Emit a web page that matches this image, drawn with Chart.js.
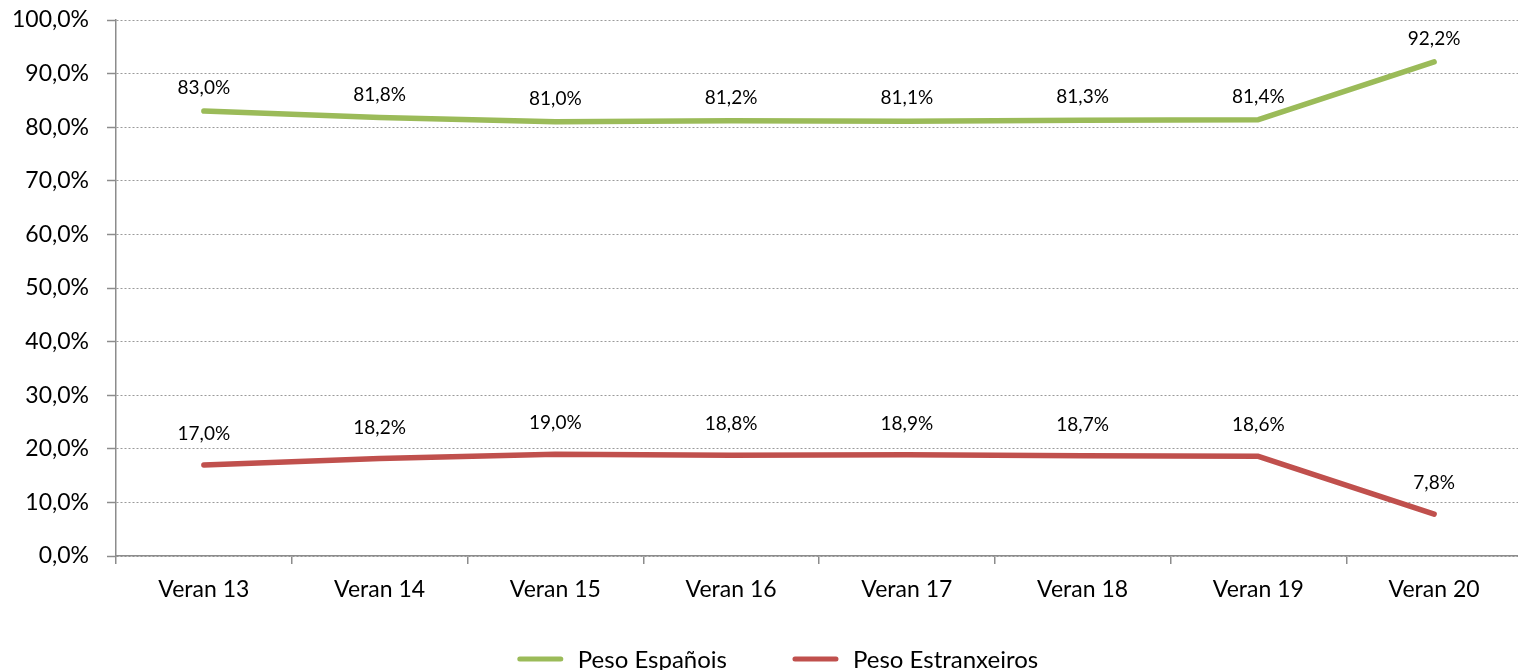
<!DOCTYPE html>
<html>
<head>
<meta charset="utf-8">
<script src="https://cdn.jsdelivr.net/npm/chart.js@4/dist/chart.umd.min.js"></script>
<style>
  html, body { margin: 0; padding: 0; background: #fff; overflow: hidden; }
  #wrap { position: relative; width: 1522px; height: 670px; }
</style>
</head>
<body>
<div id="wrap"><canvas id="c"></canvas></div>
<script>
const categories = ["Veran 13", "Veran 14", "Veran 15", "Veran 16", "Veran 17", "Veran 18", "Veran 19", "Veran 20"];
const pesoEspanois = [83.0, 81.8, 81.0, 81.2, 81.1, 81.3, 81.4, 92.2];
const pesoEstranxeiros = [17.0, 18.2, 19.0, 18.8, 18.9, 18.7, 18.6, 7.8];
const seriesNames = ["Peso Españois", "Peso Estranxeiros"];

const fmt = v => v.toFixed(1).replace('.', ',') + '%';
const FONT = "Lato";

const valueLabels = {
  id: 'valueLabels',
  afterDatasetsDraw(chart) {
    const ctx = chart.ctx;
    ctx.save();
    ctx.font = `19px ${FONT}`;
    ctx.fillStyle = '#000';
    ctx.textAlign = 'center';
    ctx.textBaseline = 'middle';
    chart.data.datasets.forEach((ds, i) => {
      const meta = chart.getDatasetMeta(i);
      meta.data.forEach((pt, j) => {
        ctx.fillText(fmt(ds.data[j]), pt.x, pt.y - ds.labelOffset);
      });
    });
    ctx.restore();
  }
};

const bottomLegend = {
  id: 'bottomLegend',
  afterDraw(chart) {
    const ctx = chart.ctx;
    const lineLen = 45, gapText = 15, gapItems = 66, cx = 778, cy = 659;
    ctx.save();
    ctx.font = `24px ${FONT}`;
    ctx.textBaseline = 'middle';
    ctx.textAlign = 'left';
    const items = chart.data.datasets.map(ds => ({ text: ds.label, color: ds.borderColor, w: ctx.measureText(ds.label).width }));
    const total = items.reduce((s, it) => s + lineLen + gapText + it.w, 0) + gapItems * (items.length - 1);
    let x = cx - total / 2;
    items.forEach(it => {
      ctx.strokeStyle = it.color;
      ctx.lineWidth = 5;
      ctx.lineCap = 'round';
      ctx.beginPath();
      ctx.moveTo(x + 2, cy);
      ctx.lineTo(x + lineLen - 2, cy);
      ctx.stroke();
      ctx.fillStyle = '#000';
      ctx.fillText(it.text, x + lineLen + gapText, cy + 1);
      x += lineLen + gapText + it.w + gapItems;
    });
    ctx.restore();
  }
};

new Chart(document.getElementById('c'), {
  type: 'line',
  data: {
    labels: categories,
    datasets: [
      { label: seriesNames[0], data: pesoEspanois, borderColor: '#9BBB59', backgroundColor: '#9BBB59',
        borderWidth: 5.5, borderCapStyle: 'round', borderJoinStyle: 'round', pointRadius: 0, tension: 0, labelOffset: 23 },
      { label: seriesNames[1], data: pesoEstranxeiros, borderColor: '#C0504D', backgroundColor: '#C0504D',
        borderWidth: 5.5, borderCapStyle: 'round', borderJoinStyle: 'round', pointRadius: 0, tension: 0, labelOffset: 31 }
    ]
  },
  options: {
    responsive: true,
    maintainAspectRatio: false,
    animation: false,
    layout: { padding: { left: 0, right: 0, top: 20, bottom: 0 } },
    plugins: {
      tooltip: { enabled: false },
      legend: { display: false }
    },
    scales: {
      x: {
        offset: true,
        afterFit(scale) { scale.height = 114; scale.paddingTop = 0; scale.paddingBottom = 0; },
        grid: { display: true, offset: true, drawOnChartArea: false, drawTicks: true, tickLength: 8,
                color: '#8c8c8c', lineWidth: 1.5 },
        border: { display: true, color: '#8c8c8c', width: 1.5 },
        ticks: { font: { family: FONT, size: 23 }, color: '#000', padding: 12, maxRotation: 0, autoSkip: false }
      },
      y: {
        min: 0, max: 100,
        afterFit(scale) { scale.width = 116; scale.paddingTop = 0; scale.paddingBottom = 0; },
        grid: { color: '#9a9a9a', lineWidth: 1, tickLength: 9, tickColor: '#8c8c8c', tickWidth: 1.5, tickBorderDash: [] },
        border: { display: true, color: '#8c8c8c', width: 1.5, dash: [2, 2] },
        ticks: { stepSize: 10, font: { family: FONT, size: 23 }, color: '#000', padding: 18,
                 callback: v => fmt(v) }
      }
    }
  },
  plugins: [valueLabels, bottomLegend]
});
</script>
</body>
</html>
